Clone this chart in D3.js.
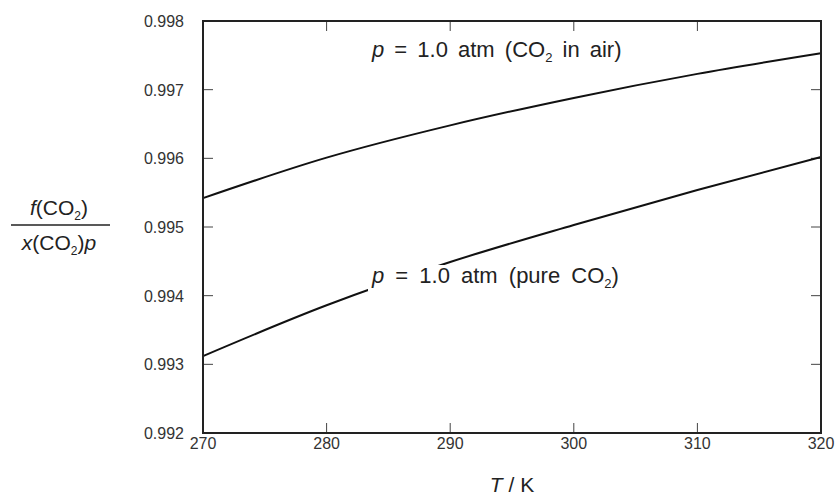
<!DOCTYPE html>
<html>
<head>
<meta charset="utf-8">
<script src="https://cdn.jsdelivr.net/npm/d3@7"></script>
<style>
body { margin: 0; background: #fff; }
text { font-family: "Liberation Sans", Arial, sans-serif; fill: #222; }
</style>
</head>
<body>
<svg id="chart" width="840" height="495"></svg>
<script>

// temperatures (K)
var temps = [270, 280, 290, 300, 310, 320];
// fugacity coefficient, CO2 in air at 1 atm
var inAir = [0.99542, 0.99601, 0.99648, 0.99688, 0.99723, 0.99753];
// fugacity coefficient, pure CO2 at 1 atm
var pureCO2 = [0.99312, 0.99386, 0.99449, 0.99503, 0.99554, 0.99602];

var xTicks = [270, 280, 290, 300, 310, 320];
var yTicks = [0.992, 0.993, 0.994, 0.995, 0.996, 0.997, 0.998];

var svg = d3.select("#chart");
var plotL = 203, plotR = 821, plotT = 21, plotB = 433;

var x = d3.scaleLinear().domain([270, 320]).range([plotL, plotR]);
var y = d3.scaleLinear().domain([0.992, 0.998]).range([plotB, plotT]);

// ticks inward on all four sides
var tickLen = 10;
var ticks = svg.append("g").attr("stroke", "#444").attr("stroke-width", 1);
xTicks.forEach(function(t) {
	ticks.append("line").attr("x1", x(t)).attr("x2", x(t))
		.attr("y1", plotB).attr("y2", plotB - tickLen);
	ticks.append("line").attr("x1", x(t)).attr("x2", x(t))
		.attr("y1", plotT).attr("y2", plotT + tickLen);
});
yTicks.forEach(function(t) {
	ticks.append("line").attr("x1", plotL).attr("x2", plotL + tickLen)
		.attr("y1", y(t)).attr("y2", y(t));
	ticks.append("line").attr("x1", plotR).attr("x2", plotR - tickLen)
		.attr("y1", y(t)).attr("y2", y(t));
});

// tick labels
svg.selectAll("text.xt").data(xTicks).enter().append("text")
	.attr("class", "xt")
	.attr("x", function(d) { return x(d); })
	.attr("y", 449)
	.attr("text-anchor", "middle")
	.style("font-size", "16px")
	.style("fill", "#333")
	.text(function(d) { return d; });

svg.selectAll("text.yt").data(yTicks).enter().append("text")
	.attr("class", "yt")
	.attr("x", 184)
	.attr("y", function(d) { return y(d) + 6; })
	.attr("text-anchor", "end")
	.style("font-size", "16px")
	.style("fill", "#333")
	.text(function(d) { return d.toFixed(3); });

// curves
var line = d3.line()
	.x(function(d, i) { return x(temps[i]); })
	.y(function(d) { return y(d); })
	.curve(d3.curveMonotoneX);

[inAir, pureCO2].forEach(function(s) {
	svg.append("path").attr("d", line(s))
		.attr("fill", "none").attr("stroke", "#111").attr("stroke-width", 2);
});

// frame
svg.append("rect").attr("x", plotL).attr("y", plotT)
	.attr("width", plotR - plotL).attr("height", plotB - plotT)
	.attr("fill", "none").attr("stroke", "#222").attr("stroke-width", 2);

// curve labels with white backing
function curveLabel(px, py, tail, w, ws) {
	svg.append("rect").attr("x", px - 4).attr("y", py - 18)
		.attr("width", w + 6).attr("height", 26).attr("fill", "#fff");
	var t = svg.append("text").attr("x", px).attr("y", py)
		.style("font-size", "22px").style("word-spacing", ws + "px");
	t.append("tspan").attr("font-style", "italic").text("p");
	t.append("tspan").text(" = 1.0 atm " + tail[0]);
	t.append("tspan").style("font-size", "13px").attr("dy", 5).text("2");
	t.append("tspan").attr("dy", -5).text(tail[1]);
}
curveLabel(372, 57, ["(CO", " in air)"], 254, 4);
curveLabel(372, 283, ["(pure CO", ")"], 248, 5);

// y-axis label as a fraction
var num = svg.append("text").attr("x", 59).attr("y", 215)
	.attr("text-anchor", "middle").style("font-size", "21px");
num.append("tspan").attr("font-style", "italic").text("f");
num.append("tspan").text("(CO");
num.append("tspan").style("font-size", "12px").attr("dy", 5).text("2");
num.append("tspan").attr("dy", -5).text(")");
svg.append("line").attr("x1", 11).attr("x2", 110).attr("y1", 225).attr("y2", 225)
	.attr("stroke", "#222").attr("stroke-width", 1.3);
var den = svg.append("text").attr("x", 59).attr("y", 250)
	.attr("text-anchor", "middle").style("font-size", "21px");
den.append("tspan").attr("font-style", "italic").text("x");
den.append("tspan").text("(CO");
den.append("tspan").style("font-size", "12px").attr("dy", 5).text("2");
den.append("tspan").attr("dy", -5).text(")");
den.append("tspan").attr("font-style", "italic").text("p");

// x-axis title
var xl = svg.append("text").attr("x", 512).attr("y", 492)
	.attr("text-anchor", "middle").style("font-size", "21px");
xl.append("tspan").attr("font-style", "italic").text("T");
xl.append("tspan").text(" / K");

</script>
</body>
</html>
